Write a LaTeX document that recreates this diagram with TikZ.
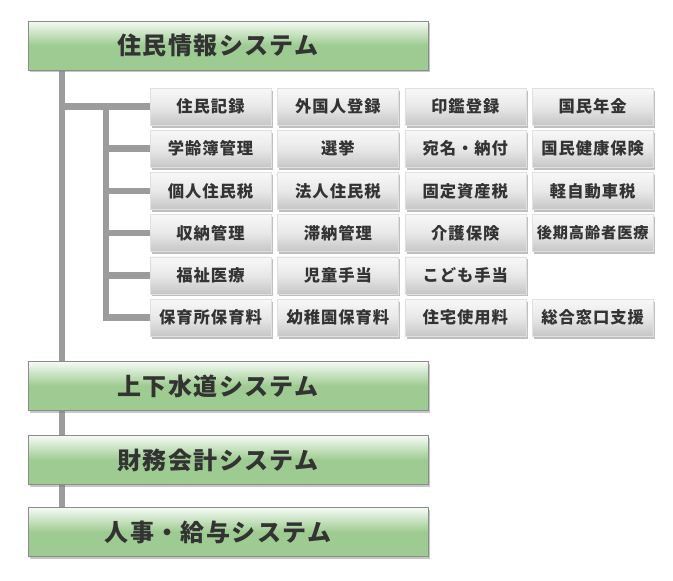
\documentclass[tikz,border=0pt]{standalone}
\usepackage{fontspec}
\newfontfamily\jpfont{Noto Sans CJK JP}[LetterSpace=6,BoldFont={Noto Sans CJK JP Black}]
\usepackage{tikz}
\usetikzlibrary{shadows,backgrounds}

\definecolor{sysTop}{HTML}{F6FBF4}
\definecolor{sysBot}{HTML}{9DCB91}
\definecolor{subTop}{HTML}{F8F8F8}
\definecolor{subMid}{HTML}{E8E8E8}
\definecolor{subBot}{HTML}{C6C6C6}
\definecolor{treeGray}{HTML}{9C9C9C}
\definecolor{labGray}{HTML}{333333}

\tikzset{
    sysbox/.style={draw=black!45, line width=0.7pt,
        top color=sysTop, bottom color=sysBot, middle color=sysBot,
        minimum width=400pt, minimum height=49pt, inner sep=0pt,
        drop shadow={shadow xshift=2pt, shadow yshift=-2pt, opacity=0.45},
        font=\jpfont\bfseries\fontsize{24}{24}\selectfont, text=labGray,
        execute at begin node=\hspace*{-20pt}},
    subbox/.style={draw=black!12, line width=0.6pt,
        top color=subTop, bottom color=subBot, middle color=subMid,
        minimum width=121pt, minimum height=37pt, inner sep=0pt,
        drop shadow={shadow xshift=2pt, shadow yshift=-2.5pt, opacity=0.5},
        font=\jpfont\bfseries\fontsize{16.3}{16.3}\selectfont, text=labGray},
    tree/.style={draw=treeGray, line width=6.5pt, line join=miter},
}

\begin{document}
\begin{tikzpicture}[x=1pt,y=-1pt]
    \useasboundingbox (0,0) rectangle (673,581);

    % systems
    \node[sysbox] (jumin)  at (228,45.5) {住民情報システム};
    \node[sysbox] (gesui)  at (228,386)  {上下水道システム};
    \node[sysbox] (zaimu)  at (228,460)  {財務会計システム};
    \node[sysbox] (jinji)  at (228,532)  {人事・給与システム};

    % sub systems of jumin
    \foreach \r/\c/\lab in {1/1/住民記録,1/2/外国人登録,1/3/印鑑登録,1/4/国民年金,
                            2/1/学齢簿管理,2/2/選挙,2/3/宛名・納付,2/4/国民健康保険,
                            3/1/個人住民税,3/2/法人住民税,3/3/固定資産税,3/4/軽自動車税,
                            4/1/収納管理,4/2/滞納管理,4/3/介護保険,4/4/{\fontsize{15.2}{15.2}\selectfont 後期高齢者医療},
                            5/1/福祉医療,5/2/児童手当,5/3/こども手当,
                            6/1/保育所保育料,6/2/幼稚園保育料,6/3/住宅使用料,6/4/総合窓口支援}{
        \node[subbox] (r\r-\c) at ({210.5+127.4*(\c-1)},{106.5+42.2*(\r-1)}) {\lab};
    }

    \coordinate (trunk) at (62,0);
    \coordinate (sub) at (106,0);

    \begin{scope}[on background layer]
        \draw[tree] (jumin.south -| trunk) -- (jinji.north -| trunk);
        \draw[tree] (trunk |- r1-1.west) -- (r1-1.west);
        \draw[tree] (sub |- r1-1.west) -- (sub |- r6-1.west) -- (r6-1.west);
        \foreach \r in {2,...,5}{
            \draw[tree] (sub |- r\r-1.west) -- (r\r-1.west);
        }
    \end{scope}
\end{tikzpicture}
\end{document}
